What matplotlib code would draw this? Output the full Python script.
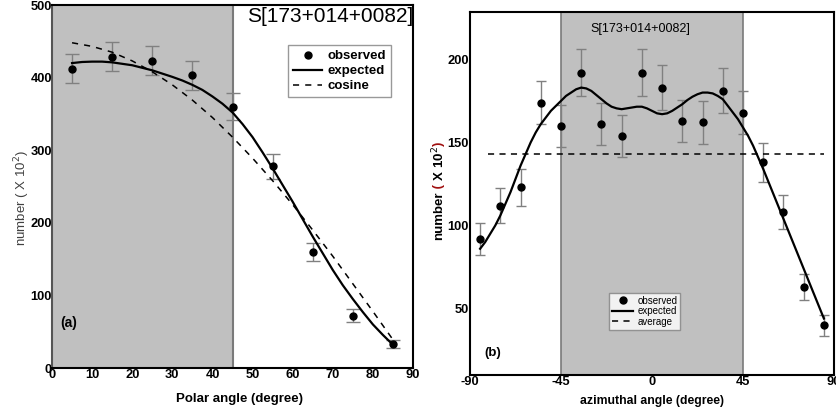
import numpy as np
import matplotlib
matplotlib.use("Agg")
import matplotlib.pyplot as plt

plt.rcParams['font.family'] = ['Liberation Sans', 'DejaVu Sans']
plt.rcParams['axes.unicode_minus'] = False

# panel (a): polar angle distribution
polar_x = [5, 15, 25, 35, 45, 55, 65, 75, 85]
polar_obs = [412, 429, 423, 403, 360, 278, 160, 72, 33]
polar_err = [20, 20, 20, 20, 19, 17, 12.5, 9, 5.5]
polar_fit_x = [5, 7.5, 10, 12.5, 15, 17.5, 20, 22.5, 25, 27.5, 30, 32.5, 35, 37.5, 40, 42.5, 45,
               47.5, 50, 52.5, 55, 57.5, 60, 62.5, 65, 67.5, 70, 72.5, 75, 77.5, 80, 82.5, 85]
polar_fit_y = [420, 421.5, 422, 422, 421, 419, 417, 413.5, 410, 405.5, 401, 396, 390, 383, 374, 364, 352,
               336, 318, 297, 275, 252, 229, 205, 181, 158, 135, 114, 95, 77, 60, 45.5, 32]
polar_cos_x = [5, 10, 15, 20, 25, 30, 35, 40, 45, 50, 55, 60, 65, 70, 75, 80, 85]
polar_cos_y = [448, 443, 435, 423, 408, 390, 369, 345, 318, 289, 258, 225, 190, 154, 116, 78, 39]

# panel (b): azimuthal angle distribution
azim_x = [-85, -75, -65, -55, -45, -35, -25, -15, -5, 5, 15, 25, 35, 45, 55, 65, 75, 85]
azim_obs = [92, 112, 123, 174, 160, 192, 161, 154, 192, 183, 163, 162, 181, 168, 138, 108, 63, 40]
azim_err = [9.6, 10.5, 11, 13, 12.5, 14, 12.6, 12.5, 14, 13.5, 12.7, 12.8, 13.5, 13, 11.6, 10.3, 7.8, 6.4]
azim_fit_x = [-85, -82.5, -80, -77.5, -75, -72.5, -70, -67.5, -65, -62.5, -60, -57.5, -55, -52.5,
              -50, -47.5, -45, -42.5, -40, -37.5, -35, -32.5, -30, -27.5, -25, -22.5, -20, -17.5,
              -15, -12.5, -10, -7.5, -5, -2.5, 0, 2.5, 5, 7.5, 10, 12.5, 15, 17.5, 20, 22.5, 25,
              27.5, 30, 32.5, 35, 37.5, 40, 42.5, 45, 47.5, 50, 52.5, 55, 57.5, 60, 62.5, 65,
              67.5, 70, 72.5, 75, 77.5, 80, 82.5, 85]
azim_fit_y = [86, 90, 95, 100, 106, 113, 120, 128, 136, 143, 150, 156, 161, 165,
              169, 172, 175, 178, 180, 182, 183, 182.5, 181, 178.5, 176, 173.5, 171.5, 170.5,
              170, 170.5, 171, 171.5, 171.5, 170.5, 169, 167.5, 167, 167.5, 169, 171, 173, 175.5, 177.5, 179, 180,
              180, 179.5, 178, 176, 172, 168, 164, 159, 154, 148, 141, 134, 126.5, 119, 111.5, 104,
              96.5, 89, 81.5, 74, 66.5, 59, 51.5, 44]
azim_avg = 143
azim_avg_x = [-81, 85]

label_text = "S[173+014+0082]"
shade_c = '#c0c0c0'
edge_c = '#7a7a7a'
err_c = '#808080'

fig = plt.figure(figsize=(8.36, 4.19), dpi=100)
ax1 = fig.add_axes([52/836, 1-368/419, 361/836, 363/419])
ax2 = fig.add_axes([470/836, 1-375/419, 364/836, 363/419])

# ---- panel (a)
ax1.axvspan(0, 45, color=shade_c, zorder=0, lw=0)
ax1.axvline(45, color=edge_c, lw=1.5, zorder=1)
ax1.errorbar(polar_x, polar_obs, yerr=polar_err, fmt='none', ecolor=err_c, elinewidth=1,
             capsize=5, capthick=1, zorder=2)
ax1.plot(polar_x, polar_obs, 'o', color='black', ms=5, zorder=4, label='observed')
ax1.plot(polar_fit_x, polar_fit_y, '-', color='black', lw=1.6, zorder=3, label='expected')
ax1.plot(polar_cos_x, polar_cos_y, '--', color='black', lw=1.1, dashes=(4, 4), zorder=3, label='cosine')
ax1.set_xlim(0, 90)
ax1.set_ylim(0, 500)
ax1.set_xticks(range(0, 91, 10))
ax1.set_yticks(range(0, 501, 100))
ax1.text(1.0, 0.995, label_text, transform=ax1.transAxes, ha='right', va='top', fontsize=15)
ax1.text(2, 62, "(a)", fontsize=10, fontweight='bold', va='center')
leg1 = ax1.legend(loc='upper right', bbox_to_anchor=(0.94, 0.89), frameon=True, fancybox=False,
                  prop={'weight': 'bold', 'size': 9.5}, handlelength=2.2, handletextpad=0.4,
                  borderpad=0.4, labelspacing=0.2, borderaxespad=0)
leg1.get_frame().set_edgecolor('#808080')
leg1.get_frame().set_linewidth(1)
ax1.set_xlabel("Polar angle (degree)", fontsize=9.5, fontweight='bold')
ax1.xaxis.set_label_coords(0.52, -0.068)
fig.text(22/836, 1-198/419, "number ( X 10$^2$)", rotation=90, ha='center', va='center',
         fontsize=9.5, color='#404040')

# ---- panel (b)
ax2.axvspan(-45, 45, color=shade_c, zorder=0, lw=0)
ax2.axvline(-45, color=edge_c, lw=1.2, zorder=1)
ax2.axvline(45, color=edge_c, lw=1.2, zorder=1)
ax2.errorbar(azim_x, azim_obs, yerr=azim_err, fmt='none', ecolor=err_c, elinewidth=1,
             capsize=3.5, capthick=1, zorder=2)
ax2.plot(azim_x, azim_obs, 'o', color='black', ms=5, zorder=4, label='observed')
ax2.plot(azim_fit_x, azim_fit_y, '-', color='black', lw=1.6, zorder=3, label='expected')
ax2.plot(azim_avg_x, [azim_avg, azim_avg], '--', color='black', lw=1.1, dashes=(4, 3.5), zorder=3,
         label='average')
ax2.set_xlim(-90, 90)
ax2.set_ylim(10, 228.5)
ax2.set_xticks([-90, -45, 0, 45, 90])
ax2.set_yticks([50, 100, 150, 200])
ax2.text(-6, 218.5, label_text, ha='center', va='center', fontsize=9)
ax2.text(-83, 23, "(b)", fontsize=9.5, fontweight='bold', va='center')
leg2 = ax2.legend(loc='upper left', bbox_to_anchor=(0.382, 0.226), frameon=True, fancybox=False,
                  prop={'size': 7}, handlelength=2.2, handletextpad=0.4,
                  borderpad=0.3, labelspacing=0.05, borderaxespad=0)
leg2.get_frame().set_edgecolor('#808080')
leg2.get_frame().set_linewidth(1)
ax2.set_xlabel("azimuthal angle (degree)", fontsize=8.8, fontweight='bold')
ax2.xaxis.set_label_coords(0.5, -0.055)

for ax in (ax1, ax2):
    ax.tick_params(length=0, pad=1, labelsize=9.3)
    for lab in ax.get_xticklabels() + ax.get_yticklabels():
        lab.set_fontweight('bold')
    for sp in ax.spines.values():
        sp.set_linewidth(1.5)
        sp.set_color('black')
ax1.spines['left'].set_color('#555555')
ax1.tick_params(axis='y', pad=0)

# multi-coloured y label of panel (b), stacked upward
fig.canvas.draw()
renderer = fig.canvas.get_renderer()
pieces = [("number", 'black', 'bold'), (" (", '#a01010', 'bold'), (" X 10$^2$", 'black', 'bold'),
          (")", '#a01010', 'bold')]
ypix = 240
for s, c, w in pieces:
    t = fig.text(439/836, 1-ypix/419, s, rotation=90, ha='center', va='bottom',
                 fontsize=9.5, color=c, fontweight=w)
    bb = t.get_window_extent(renderer)
    ypix -= bb.height

fig.savefig("out.png", dpi=100)
